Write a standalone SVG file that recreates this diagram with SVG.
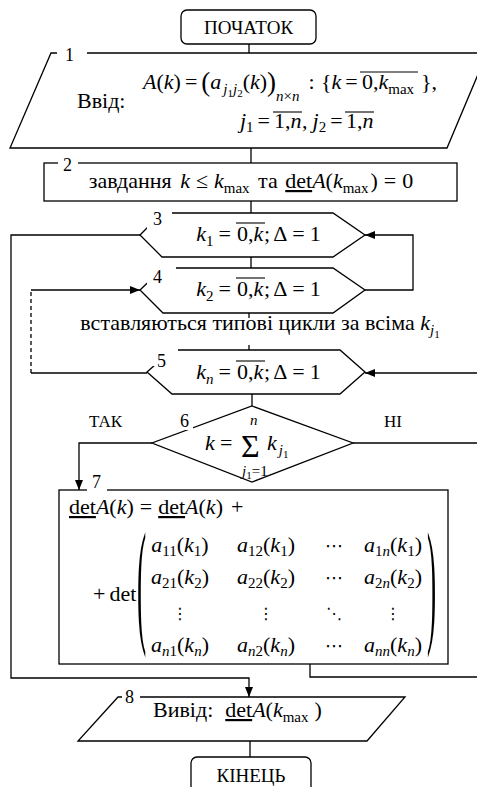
<svg xmlns="http://www.w3.org/2000/svg" width="477" height="787" viewBox="0 0 477 787" font-family="Liberation Serif, Times New Roman, Tinos, DejaVu Serif, serif">
<style>
text{fill:#000}
.t{font-size:22px}
.i{font-style:italic}
.s{font-size:15px}
.ss{font-size:11px}
.big{font-size:27px}
.sig{font-size:32px}
.lb{font-size:18px}
.sm{font-size:17px}
.cap{font-size:19px}
.dj{font-family:'DejaVu Serif','DejaVu Sans',serif}
.sh{fill:#fff;stroke:#000;stroke-width:1.3}
.ln{fill:none;stroke:#000;stroke-width:1.3}
.ol{fill:none;stroke:#000;stroke-width:1.1}
.dash{fill:none;stroke:#000;stroke-width:1.3;stroke-dasharray:4 3}
.w{fill:#fff;stroke:none}
</style>
<defs>
<marker id="ah" markerUnits="userSpaceOnUse" markerWidth="10" markerHeight="8" refX="10" refY="4" orient="auto">
<path d="M0,0 L10,4 L0,8 z" fill="#000"/>
</marker>
</defs>
<rect width="477" height="787" fill="#fff"/>
<g id="connectors">
<path class="ln" d="M249,44 V53"/>
<path class="ln" d="M251,148 V163"/>
<path class="ln" d="M251,201 V213"/>
<path class="ln" d="M251,257 V268"/>
<path class="ln" d="M249,313 V318"/>
<path class="ln" d="M249,345 V350"/>
<path class="ln" d="M252,394 V406"/>
<path class="ln" d="M140,235 H11 V678 H249 V697" marker-end="url(#ah)"/>
<path class="ln" d="M365,290 H413 V235 H365" marker-end="url(#ah)"/>
<path class="ln" d="M147,373 H31"/>
<path class="dash" d="M31,373 V290"/>
<path class="ln" d="M31,290 H140" marker-end="url(#ah)"/>
<path class="ln" d="M477,373 H365" marker-end="url(#ah)"/>
<path class="ln" d="M353,443 H477"/>
<path class="ln" d="M152,443 H79 V490" marker-end="url(#ah)"/>
<path class="ln" d="M310,664 V677 H477"/>
<path class="ln" d="M250,741 V757"/>
</g>
<g id="start">
<rect class="sh" x="181" y="10" width="135" height="34" rx="6"/>
<text class="cap" x="248.5" y="34" text-anchor="middle">ПОЧАТОК</text>
</g>
<g id="n1">
<polygon class="sh" points="51,53 487,53 447,148 10,148"/>
<rect class="w" x="57" y="47" width="30" height="12"/>
<text class="lb" x="65" y="61">1</text>
<text class="t" x="77" y="108">Ввід:</text>
<text class="t" x="143" y="89"><tspan class="i">A</tspan>(<tspan class="i">k</tspan>)<tspan dx="4">=</tspan><tspan dx="4" class="big" dy="2">(</tspan><tspan class="i" dy="-2">a</tspan><tspan class="i s" dy="5" dx="2">j</tspan><tspan class="ss" dy="3">1</tspan><tspan class="i s" dy="-3">j</tspan><tspan class="ss" dy="3">2</tspan><tspan dy="-8">(</tspan><tspan class="i">k</tspan>)<tspan class="big" dy="2">)</tspan><tspan class="i s" dy="10">n</tspan><tspan class="s">×</tspan><tspan class="i s">n</tspan><tspan dy="-12" dx="9">:</tspan></text>
<text class="t" x="321" y="89">{<tspan class="i">k</tspan><tspan dx="4">=</tspan></text>
<text class="t" x="362" y="89">0,<tspan class="i">k</tspan><tspan class="s" dy="5">max</tspan></text>
<text class="t" x="421" y="89">},</text>
<line class="ol" x1="360" y1="72" x2="418" y2="72"/>
<text class="t" x="270" y="128" text-anchor="end"><tspan class="i">j</tspan><tspan class="s" dy="4">1</tspan><tspan dy="-4" dx="4">=</tspan></text>
<text class="t" x="274" y="128">1,<tspan class="i">n</tspan></text>
<line class="ol" x1="273" y1="112" x2="302" y2="112"/>
<text class="t" x="302" y="128">,<tspan class="i" dx="5">j</tspan><tspan class="s" dy="4">2</tspan><tspan dy="-4" dx="4">=</tspan></text>
<text class="t" x="346" y="128">1,<tspan class="i">n</tspan></text>
<line class="ol" x1="345" y1="112" x2="374" y2="112"/>
</g>
<g id="n2">
<rect class="sh" x="44" y="163" width="413" height="38"/>
<rect class="w" x="58" y="157" width="20" height="12"/>
<text class="lb" x="63" y="171">2</text>
<text class="t" x="251" y="188" text-anchor="middle">завдання <tspan class="i" dx="3">k</tspan><tspan dx="6">≤</tspan><tspan dx="6" class="i">k</tspan><tspan class="s" dy="5">max</tspan><tspan dy="-5" dx="3"> та </tspan><tspan dx="2" text-decoration="underline">det</tspan><tspan class="i">A</tspan>(<tspan class="i">k</tspan><tspan class="s" dy="5">max</tspan><tspan dy="-5" dx="2">)</tspan><tspan dx="6">=</tspan><tspan dx="6">0</tspan></text>
</g>
<g id="n3">
<polygon class="sh" points="140,235 162,213 333,213 365,235 333,257 162,257"/>
<rect class="w" x="147" y="207" width="25" height="22"/>
<text class="lb" x="153" y="225">3</text>
<text class="t" x="231" y="241" text-anchor="end"><tspan class="i">k</tspan><tspan class="s" dy="5">1</tspan><tspan dy="-5" dx="5">=</tspan></text>
<text class="t" x="237" y="241">0,<tspan class="i">k</tspan></text>
<line class="ol" x1="236" y1="223" x2="265" y2="223"/>
<text class="t" x="264" y="241">;<tspan dx="3">Δ</tspan><tspan dx="5">=</tspan><tspan dx="5">1</tspan></text>
</g>
<g id="n4">
<polygon class="sh" points="140,290 163,268 333,268 365,290 333,313 163,313"/>
<rect class="w" x="147" y="262" width="29" height="22"/>
<text class="lb" x="153" y="283">4</text>
<text class="t" x="231" y="296" text-anchor="end"><tspan class="i">k</tspan><tspan class="s" dy="5">2</tspan><tspan dy="-5" dx="5">=</tspan></text>
<text class="t" x="237" y="296">0,<tspan class="i">k</tspan></text>
<line class="ol" x1="236" y1="278" x2="265" y2="278"/>
<text class="t" x="264" y="296">;<tspan dx="3">Δ</tspan><tspan dx="5">=</tspan><tspan dx="5">1</tspan></text>
</g>
<g id="ellipsis">
<text class="t" x="260" y="330" text-anchor="middle">вставляються типові цикли за всіма <tspan class="i">k</tspan><tspan class="i s" dy="5">j</tspan><tspan class="ss" dy="3">1</tspan></text>
</g>
<g id="n5">
<polygon class="sh" points="147,372 172,350 340,350 365,372 340,394 172,394"/>
<rect class="w" x="152" y="344" width="26" height="22"/>
<text class="lb" x="157" y="367">5</text>
<text class="t" x="231" y="379" text-anchor="end"><tspan class="i">k</tspan><tspan class="i s" dy="5">n</tspan><tspan dy="-5" dx="5">=</tspan></text>
<text class="t" x="237" y="379">0,<tspan class="i">k</tspan></text>
<line class="ol" x1="236" y1="361" x2="265" y2="361"/>
<text class="t" x="264" y="379">;<tspan dx="3">Δ</tspan><tspan dx="5">=</tspan><tspan dx="5">1</tspan></text>
</g>
<g id="n6">
<polygon class="sh" points="252,406 353,443 252,482 152,443"/>
<rect class="w" x="175" y="413" width="18" height="17"/>
<text class="lb" x="180" y="427">6</text>
<text class="sm" x="89" y="427">ТАК</text>
<text class="sm" x="384" y="427">НІ</text>
<text class="t i" x="205" y="450">k</text>
<text class="t" x="220" y="450">=</text>
<text class="t sig" x="241" y="457">Σ</text>
<text class="t i s" x="250" y="425">n</text>
<text class="t" x="267" y="450"><tspan class="i">k</tspan><tspan class="i s" dy="5" dx="2">j</tspan><tspan class="ss" dy="3">1</tspan></text>
<text class="t s" x="242" y="476"><tspan class="i">j</tspan><tspan class="ss" dy="3">1</tspan><tspan dy="-3">=1</tspan></text>
</g>
<g id="n7">
<rect class="sh" x="59" y="490" width="389" height="174"/>
<rect class="w" x="87" y="484" width="20" height="12"/>
<text class="lb" x="92" y="488">7</text>
<text class="t" x="69" y="514"><tspan text-decoration="underline">det</tspan><tspan class="i">A</tspan>(<tspan class="i">k</tspan>)<tspan dx="6">=</tspan><tspan dx="6" text-decoration="underline">det</tspan><tspan class="i">A</tspan>(<tspan class="i">k</tspan>)<tspan dx="8">+</tspan></text>
<text class="t" x="93" y="601">+<tspan dx="4">det</tspan></text>
<text class="t" transform="translate(137,628) scale(1.25,6.3)">(</text>
<text class="t" transform="translate(427,628) scale(1.25,6.3)">)</text>
<g text-anchor="middle">
<text class="t" x="180" y="552"><tspan class="i">a</tspan><tspan class="s" dy="4">11</tspan><tspan dy="-4">(</tspan><tspan class="i">k</tspan><tspan class="s" dy="4">1</tspan><tspan dy="-4">)</tspan></text>
<text class="t" x="266" y="552"><tspan class="i">a</tspan><tspan class="s" dy="4">12</tspan><tspan dy="-4">(</tspan><tspan class="i">k</tspan><tspan class="s" dy="4">1</tspan><tspan dy="-4">)</tspan></text>
<text class="dj" x="334" y="552" font-size="18">⋯</text>
<text class="t" x="393" y="552"><tspan class="i">a</tspan><tspan class="s" dy="4">1<tspan class="i">n</tspan></tspan><tspan dy="-4">(</tspan><tspan class="i">k</tspan><tspan class="s" dy="4">1</tspan><tspan dy="-4">)</tspan></text>
<text class="t" x="180" y="584"><tspan class="i">a</tspan><tspan class="s" dy="4">21</tspan><tspan dy="-4">(</tspan><tspan class="i">k</tspan><tspan class="s" dy="4">2</tspan><tspan dy="-4">)</tspan></text>
<text class="t" x="266" y="584"><tspan class="i">a</tspan><tspan class="s" dy="4">22</tspan><tspan dy="-4">(</tspan><tspan class="i">k</tspan><tspan class="s" dy="4">2</tspan><tspan dy="-4">)</tspan></text>
<text class="dj" x="334" y="584" font-size="18">⋯</text>
<text class="t" x="393" y="584"><tspan class="i">a</tspan><tspan class="s" dy="4">2<tspan class="i">n</tspan></tspan><tspan dy="-4">(</tspan><tspan class="i">k</tspan><tspan class="s" dy="4">2</tspan><tspan dy="-4">)</tspan></text>
<text class="dj" x="180" y="619" font-size="16">⋮</text>
<text class="dj" x="266" y="619" font-size="16">⋮</text>
<text class="dj" x="334" y="619" font-size="16">⋱</text>
<text class="dj" x="393" y="619" font-size="16">⋮</text>
<text class="t" x="180" y="652"><tspan class="i">a</tspan><tspan class="s" dy="4"><tspan class="i">n</tspan>1</tspan><tspan dy="-4">(</tspan><tspan class="i">k</tspan><tspan class="i s" dy="4">n</tspan><tspan dy="-4">)</tspan></text>
<text class="t" x="266" y="652"><tspan class="i">a</tspan><tspan class="s" dy="4"><tspan class="i">n</tspan>2</tspan><tspan dy="-4">(</tspan><tspan class="i">k</tspan><tspan class="i s" dy="4">n</tspan><tspan dy="-4">)</tspan></text>
<text class="dj" x="334" y="652" font-size="18">⋯</text>
<text class="t" x="393" y="652"><tspan class="i">a</tspan><tspan class="i s" dy="4">nn</tspan><tspan dy="-4">(</tspan><tspan class="i">k</tspan><tspan class="i s" dy="4">n</tspan><tspan dy="-4">)</tspan></text>
</g>
</g>
<g id="n8">
<polygon class="sh" points="118,697 405,697 367,741 78,741"/>
<rect class="w" x="122" y="691" width="18" height="12"/>
<text class="lb" x="125" y="703">8</text>
<text class="t" x="153" y="717">Вивід:<tspan dx="12" text-decoration="underline">det</tspan><tspan class="i">A</tspan>(<tspan class="i">k</tspan><tspan class="s" dy="5">max</tspan><tspan dy="-5" dx="6">)</tspan></text>
</g>
<g id="end">
<rect class="sh" x="191" y="757" width="120" height="40" rx="6"/>
<text class="cap" x="251" y="782" text-anchor="middle">КІНЕЦЬ</text>
</g>
</svg>
